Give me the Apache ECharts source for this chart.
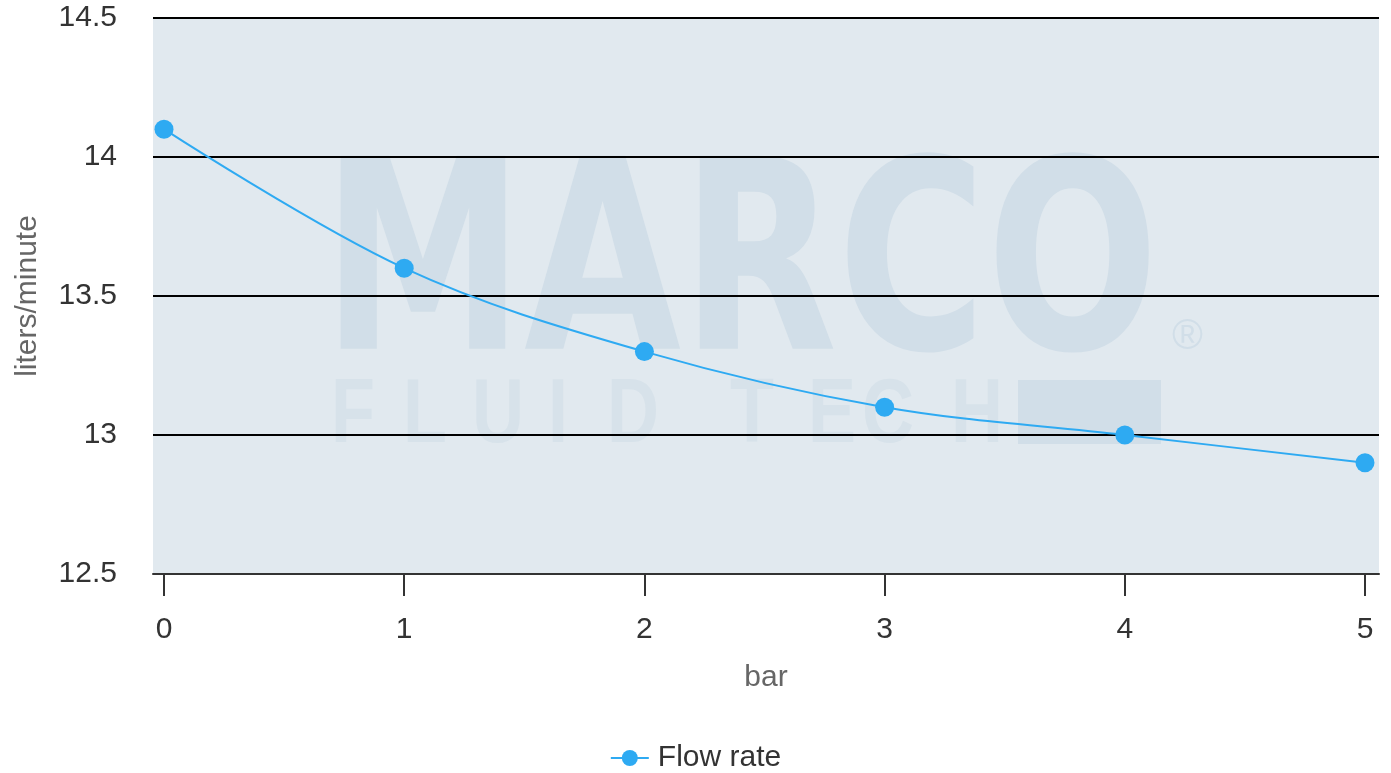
<!DOCTYPE html>
<html>
<head>
<meta charset="utf-8">
<script src="https://cdn.jsdelivr.net/npm/echarts@6/dist/echarts.min.js"></script>
<style>
html,body{margin:0;padding:0;background:#fff;}
#chart{width:1391px;height:773px;}
</style>
</head>
<body>
<div id="chart"></div>
<script>
const pressures = [0, 1, 2, 3, 4, 5];
const flowRate = [14.1, 13.6, 13.3, 13.1, 13.0, 12.9];
const xTickValues = [0, 1, 2, 3, 4, 5];
const seriesName = 'Flow rate';

const chart = echarts.init(document.getElementById('chart'));
const font = 'Liberation Sans, Arial, sans-serif';
const wm = '#d1dee8';
const wm2 = '#d7e2ea';

const fluidLetters = [['F',331],['L',403],['U',472],['I',548],['D',607],['T',730],['E',808],['C',862],['H',951]];

const graphics = [
  { type: 'rect', shape: { x: 153, y: 18, width: 1226, height: 556 }, z: -10, silent: true,
    style: { fill: '#e1e9ef' } },
  { type: 'text', x: 322, y: 280, scaleX: 0.766, z: -5, silent: true,
    style: { text: 'MARCO', fontSize: 265, fontWeight: 'bold', fontFamily: 'DejaVu Sans, sans-serif',
      fill: wm, verticalAlign: 'middle' } },
  { type: 'text', x: 1172, y: 337, z: -5, silent: true,
    style: { text: '®', fontSize: 42, fontFamily: font, fill: wm, verticalAlign: 'middle' } },
  { type: 'rect', shape: { x: 1018, y: 380, width: 143, height: 64 }, z: -5, silent: true,
    style: { fill: wm } }
];
fluidLetters.forEach(([ch, x]) => {
  graphics.push({ type: 'text', x: x, y: 417, scaleX: 0.8, z: -5, silent: true,
    style: { text: ch, fontSize: 90, fontWeight: 'bold', fontFamily: font, fill: wm2, verticalAlign: 'middle' } });
});

chart.setOption({
  animation: false,
  textStyle: { fontFamily: font },
  grid: { left: 153, right: 12, top: 18, bottom: 199, show: false },
  graphic: graphics,
  legend: {
    top: 738, left: 'center',
    itemWidth: 38, itemHeight: 20, itemGap: 10,
    textStyle: { fontSize: 30, color: '#333', fontFamily: font, padding: [0, 0, 0, 4] },
    data: [seriesName]
  },
  xAxis: {
    type: 'value',
    min: -0.0458, max: 5.0583,
    name: 'bar', nameLocation: 'middle', nameGap: 89,
    nameTextStyle: { fontSize: 30, color: '#666', fontFamily: font },
    axisLine: { show: true, lineStyle: { color: '#333', width: 2 } },
    axisTick: { show: true, length: 22, lineStyle: { color: '#333', width: 2 }, customValues: xTickValues },
    axisLabel: { fontSize: 30, color: '#333', margin: 41, customValues: xTickValues, fontFamily: font },
    splitLine: { show: false }
  },
  yAxis: {
    type: 'value',
    min: 12.5, max: 14.5, interval: 0.5,
    name: 'liters/minute', nameLocation: 'middle', nameGap: 110, nameRotate: 90,
    nameTextStyle: { fontSize: 30, color: '#666', fontFamily: font },
    axisLine: { show: false },
    axisTick: { show: false },
    axisLabel: { fontSize: 30, color: '#333', margin: 36, fontFamily: font },
    splitLine: { show: true, lineStyle: { color: '#000', width: 2 } }
  },
  series: [{
    name: seriesName,
    type: 'line',
    smooth: 0.35,
    data: pressures.map((p, i) => [p, flowRate[i]]),
    symbol: 'circle', symbolSize: 19,
    itemStyle: { color: '#2eaaf2' },
    lineStyle: { color: '#2eaaf2', width: 2 },
    z: 5
  }]
});
</script>
</body>
</html>
